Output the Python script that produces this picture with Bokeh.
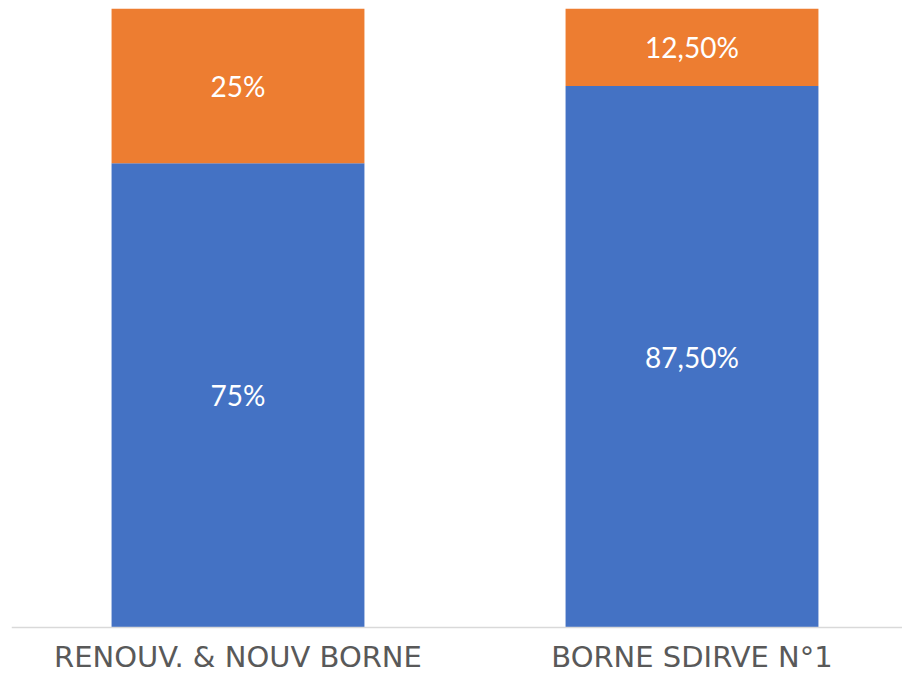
from bokeh.plotting import figure
from bokeh.models import ColumnDataSource, Range1d, FixedTicker
from bokeh.core.properties import value
from bokeh.embed import file_html
from bokeh.resources import INLINE

categories = ["RENOUV. & NOUV BORNE", "BORNE SDIRVE N°1"]
blue_values = [0.75, 0.875]
orange_values = [0.25, 0.125]
blue_labels = ["75%", "87,50%"]
orange_labels = ["25%", "12,50%"]

BLUE = "#4472C4"
ORANGE = "#ED7D31"

xs = [i + 1 for i in range(len(categories))]
src = ColumnDataSource(dict(
    x=xs,
    blue=blue_values,
    orange=orange_values,
    top=[b + o for b, o in zip(blue_values, orange_values)],
    blue_mid=[b / 2 for b in blue_values],
    orange_mid=[b + o / 2 for b, o in zip(blue_values, orange_values)],
    blue_lab=blue_labels,
    orange_lab=orange_labels,
))

W, H = 902, 674
LEFT, TOP = 11, 8
UNIT = 454.0
Y_UNIT = 619.0
x0 = 1 - (237.5 - LEFT) / UNIT
y_lo = (H - 627) / Y_UNIT
p = figure(width=W, height=H, output_backend="svg", toolbar_location=None,
           x_range=Range1d(x0, x0 + (W - LEFT) / UNIT), y_range=Range1d(-y_lo, 1),
           min_border_left=LEFT, min_border_right=0, min_border_top=TOP, min_border_bottom=0)
p.outline_line_color = None
p.xgrid.visible = False
p.ygrid.visible = False
p.yaxis.visible = False

bw = 0.557
p.vbar(x="x", bottom=0, top="blue", width=bw, fill_color=BLUE, line_color=None, source=src)
p.vbar(x="x", bottom="blue", top="top", width=bw, fill_color=ORANGE, line_color=None, source=src)

for ycol, tcol in (("blue_mid", "blue_lab"), ("orange_mid", "orange_lab")):
    p.text(x="x", y=ycol, text=tcol, source=src, text_color="white",
           text_font=value("Lato"), text_font_size="28px",
           text_align="center", text_baseline="middle")

ax = p.xaxis[0]
ax.fixed_location = 0
ax.ticker = FixedTicker(ticks=xs)
ax.major_label_overrides = {x: c for x, c in zip(xs, categories)}
ax.axis_line_color = "#D9D9D9"
ax.axis_line_width = 1.5
ax.major_tick_in = 0
ax.major_tick_out = 0
ax.minor_tick_in = 0
ax.minor_tick_out = 0
ax.major_label_standoff = 12
ax.major_label_text_font = "DejaVu Sans"
ax.major_label_text_font_size = "29px"
ax.major_label_text_color = "#595959"

open("out.html", "w").write(file_html(p, INLINE))
